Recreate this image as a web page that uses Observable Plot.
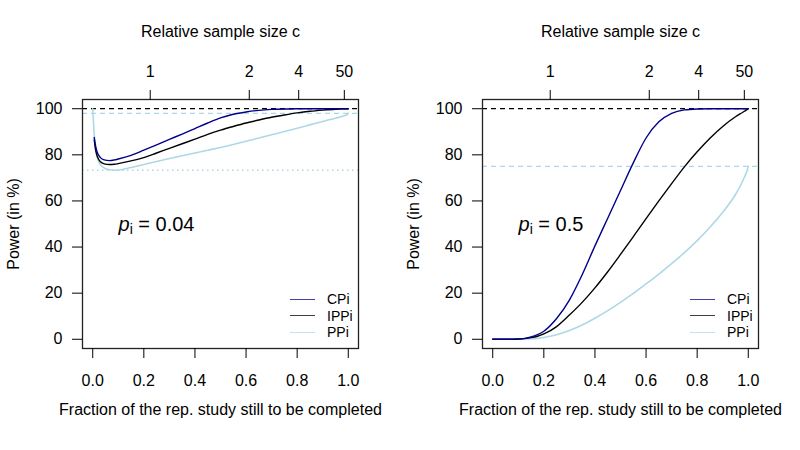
<!DOCTYPE html>
<html><head><meta charset="utf-8">
<script src="https://cdn.jsdelivr.net/npm/d3@7"></script>
<script src="https://cdn.jsdelivr.net/npm/@observablehq/plot@0.6"></script>
<style>
body{margin:0;background:#fff;font-family:"Liberation Sans",Arial,Helvetica,sans-serif;}
#wrap{display:flex;width:800px;height:450px;}
.panel{position:relative;width:400px;height:450px;}
.legend{position:absolute;left:290px;top:291px;font-size:14px;color:#000;}
.legend .row{display:flex;align-items:center;height:16.5px;}
.legend .sw{width:25px;height:0;border-top:1.5px solid;margin-right:12px;opacity:0.75;}
</style></head><body><div id="wrap"></div><script>
// ---- data ----
const seriesNames = ["CPi", "IPPi", "PPi"];
const seriesColors = ["#00008B", "#000000", "#ADD8E6"];

const xTicks = [0, 0.2, 0.4, 0.6, 0.8, 1.0];
const yTicks = [0, 20, 40, 60, 80, 100];
const topTickPos = [0.225, 0.6125, 0.806, 0.9845];
const topTickLabels = ["1", "2", "4", "50"];

const xTitle = "Fraction of the rep. study still to be completed";
const topTitle = "Relative sample size c";
const yTitle = "Power (in %)";

// left panel (p_i = 0.04)
const leftP = "0.04";
const leftGrid = [0, 0.003, 0.006, 0.01, 0.015, 0.02, 0.03, 0.045, 0.065, 0.085, 0.1, 0.15, 0.2, 0.25, 0.3, 0.35, 0.4, 0.45, 0.5, 0.55, 0.6, 0.65, 0.7, 0.75, 0.8, 0.85, 0.9, 0.95, 0.98, 0.995, 1];
const leftCPi  = [null, null, 87.5, 84.5, 82, 80.5, 78.8, 77.8, 77.5, 77.8, 78.2, 79.8, 82.0, 84.3, 86.7, 89.0, 91.4, 93.8, 96.0, 97.6, 98.6, 99.3, 99.7, 99.9, 100, 100, 100, 100, 100, 100, 100];
const leftIPPi = [null, null, 86.5, 83, 80.3, 78.7, 77, 76.1, 75.8, 75.9, 76.2, 77.4, 78.8, 80.8, 82.8, 84.8, 86.8, 88.9, 90.7, 92.3, 93.8, 95.1, 96.3, 97.3, 98.2, 98.9, 99.4, 99.8, 99.95, 100, 100];
const leftPPi  = [100, 94, 88.5, 84, 80.3, 78, 75.8, 74.3, 73.5, 73.3, 73.4, 74.5, 75.8, 77.1, 78.4, 79.6, 80.8, 82, 83.2, 84.5, 85.9, 87.3, 88.7, 90.1, 91.5, 93, 94.5, 95.9, 96.8, 97.4, 98];
const leftRefDashed = [98];
const leftRefDotted = [73.3];

// right panel (p_i = 0.5)
const rightP = "0.5";
const rightGrid = [0, 0.05, 0.1, 0.125, 0.15, 0.175, 0.2, 0.25, 0.3, 0.35, 0.4, 0.45, 0.5, 0.55, 0.6, 0.65, 0.7, 0.75, 0.8, 0.85, 0.9, 0.95, 0.97, 0.985, 0.995, 1];
const rightCPi  = [0, 0, 0.1, 0.4, 1, 2, 3.5, 9, 17, 28, 40.5, 52.5, 64.5, 76.5, 87.3, 94.3, 98, 99.5, 99.9, 100, 100, 100, 100, 100, 100, 100];
const rightIPPi = [0, 0, 0.1, 0.3, 0.7, 1.3, 2.3, 5.5, 10.5, 16, 22.3, 29.3, 36.8, 44.5, 52.3, 60, 67.5, 74.8, 81.3, 87.2, 92.3, 96.5, 97.9, 98.9, 99.6, 100];
const rightPPi  = [0, 0, 0, 0.1, 0.2, 0.4, 0.8, 2, 3.8, 6.2, 9.1, 12.4, 16.0, 19.9, 24.0, 28.3, 32.8, 37.6, 42.8, 48.6, 55.1, 62.8, 66.8, 70.4, 73, 75];
const rightRefDashed = [75];
const rightRefDotted = [];

const topRef = [100];

// ---- drawing ----
const FONT = '"Liberation Sans", Arial, Helvetica, sans-serif';

function makePanel(grid, cpi, ippi, ppi, refDashed, refDotted, pval) {
  const rows = grid.map((t, i) => ({t, CPi: cpi[i], IPPi: ippi[i], PPi: ppi[i]}));
  const svg = Plot.plot({
    width: 400, height: 450,
    marginLeft: 82, marginRight: 42, marginTop: 99, marginBottom: 102,
    x: {domain: [-0.04, 1.04]},
    y: {domain: [-4, 104]},
    style: {fontFamily: FONT, fontSize: "16px", color: "#000", background: "#fff", overflow: "visible"},
    marks: [
      Plot.ruleY(topRef, {stroke: "#000", strokeDasharray: "5,4", strokeWidth: 1.3}),
      Plot.ruleY(refDashed, {stroke: seriesColors[2], strokeDasharray: "5,4", strokeWidth: 1.3}),
      Plot.ruleY(refDotted, {stroke: seriesColors[2], strokeDasharray: "1.5,3.5", strokeWidth: 1.6}),
      Plot.line(rows, {x: "t", y: "PPi", stroke: seriesColors[2], strokeWidth: 1.6, curve: "monotone-x"}),
      Plot.line(rows, {x: "t", y: "IPPi", stroke: seriesColors[1], strokeWidth: 1.4, curve: "monotone-x"}),
      Plot.line(rows, {x: "t", y: "CPi", stroke: seriesColors[0], strokeWidth: 1.4, curve: "monotone-x"}),
      Plot.frame({stroke: "#222", strokeWidth: 1.3}),
      Plot.axisX(xTicks, {anchor: "bottom", tickSize: 10, tickPadding: 16, tickFormat: d3.format(".1f"),
        label: xTitle, labelAnchor: "center", labelOffset: 66, labelArrow: "none"}),
      Plot.axisX(topTickPos, {anchor: "top", tickSize: 10, tickPadding: 12.8,
        tickFormat: d => topTickLabels[topTickPos.indexOf(d)],
        label: topTitle, labelAnchor: "center", labelOffset: 74, labelArrow: "none"}),
      Plot.axisY(yTicks, {anchor: "left", tickSize: 10, tickPadding: 10,
        label: yTitle, labelAnchor: "center", labelOffset: 75, labelArrow: "none"}),
      Plot.text(["p"], {frameAnchor: "top-left", textAnchor: "start", dx: 36, dy: 117, fontSize: 20})
    ]
  });
  const t = d3.select(svg).select('g[aria-label="text"] text');
  t.text(null);
  t.append("tspan").attr("font-style", "italic").text("p");
  t.append("tspan").attr("font-size", "14px").attr("dy", "3").text("i");
  t.append("tspan").attr("dy", "-3").text(" = " + pval);

  const div = document.createElement("div");
  div.className = "panel";
  div.appendChild(svg);
  const leg = document.createElement("div");
  leg.className = "legend";
  seriesNames.forEach((n, i) => {
    const r = document.createElement("div");
    r.className = "row";
    const sw = document.createElement("span");
    sw.className = "sw";
    sw.style.borderTopColor = seriesColors[i];
    const tx = document.createElement("span");
    tx.textContent = n;
    r.appendChild(sw); r.appendChild(tx);
    leg.appendChild(r);
  });
  div.appendChild(leg);
  return div;
}

const wrap = document.getElementById("wrap");
wrap.appendChild(makePanel(leftGrid, leftCPi, leftIPPi, leftPPi, leftRefDashed, leftRefDotted, leftP));
wrap.appendChild(makePanel(rightGrid, rightCPi, rightIPPi, rightPPi, rightRefDashed, rightRefDotted, rightP));
</script></body></html>
